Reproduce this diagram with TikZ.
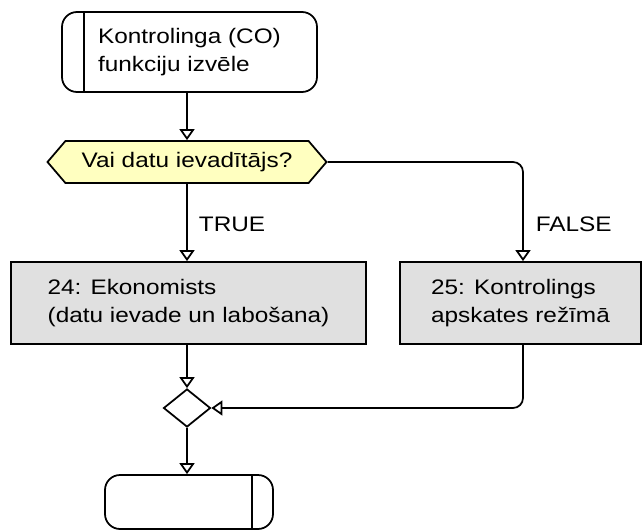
\documentclass[tikz,border=0pt]{standalone}
\usepackage{fontspec}
\setmainfont[FakeStretch=1.16]{Liberation Sans}
\usepackage{tikz}
\usetikzlibrary{arrows.meta,shapes.geometric,shapes.symbols}

\definecolor{decfill}{RGB}{255,255,192}
\definecolor{actfill}{RGB}{224,224,224}

\tikzset{
  flow/.style={line width=1.75pt,-{Triangle[open,width=15pt,length=11pt]}},
  term/.style={draw,line width=1.75pt,rounded corners=15pt,align=left},
  act/.style={draw,line width=1.75pt,fill=actfill,align=left,
    minimum height=82pt},
}

\begin{document}
\begin{tikzpicture}[x=1pt,y=-1pt,
  every node/.style={font=\fontsize{21pt}{27.5pt}\selectfont}]
\useasboundingbox (0,0) rectangle (643,530);

\node[term,minimum width=255pt,minimum height=80pt,
  path picture={\draw[line width=1.75pt]
    ([xshift=22pt]path picture bounding box.north west) --
    ([xshift=22pt]path picture bounding box.south west);}]
  (start) at (189.5,52) {Kontrolinga (CO)\\funkciju izvēle\hspace*{6pt}};

\node[signal,signal to=east and west,signal pointer angle=99,
  draw,line width=1.75pt,fill=decfill,inner sep=0pt,
  minimum width=279pt,minimum height=42pt]
  (q) at (187,162) {Vai datu ievadītājs?};

\node[act,minimum width=355pt] (b24) at (188.5,303)
  {24: Ekonomists\\(datu ievade un labošana)};
\node[act,minimum width=241pt] (b25) at (520.5,303)
  {25: Kontrolings\\apskates režīmā};

\node[diamond,draw,line width=1.75pt,inner sep=0pt,
  minimum width=47pt,minimum height=38pt] (m) at (187,408) {};

\node[term,minimum width=168pt,minimum height=54pt,
  path picture={\draw[line width=1.75pt]
    ([xshift=-21pt]path picture bounding box.north east) --
    ([xshift=-21pt]path picture bounding box.south east);}]
  (stop) at (189,502) {};

% connectors
\draw[flow] (start.south -| q.north) -- (q.north);
\draw[flow] (q.south) -- (q.south |- b24.north)
  node[pos=0.53,anchor=west,xshift=11pt,inner sep=0pt] {TRUE};
\draw[flow,rounded corners=10pt] (q.east) -| ([xshift=2.5pt]b25.north)
  node[pos=0.815,anchor=west,xshift=12pt,inner sep=0pt] {FALSE};
\draw[flow] (m.north |- b24.south) -- (m.north);
\draw[flow,rounded corners=10pt] ([xshift=2.5pt]b25.south) |- (m.east);
\draw[flow] (m.south) -- (m.south |- stop.north);

\end{tikzpicture}
\end{document}
